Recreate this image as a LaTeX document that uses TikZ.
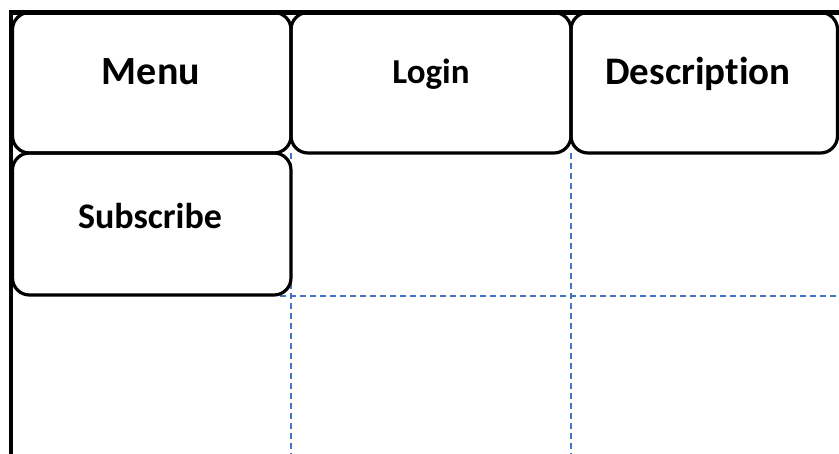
\documentclass[tikz,border=0pt]{standalone}
\usepackage{fontspec}
\setmainfont{Carlito}[Ligatures=NoCommon]
\begin{document}
\begin{tikzpicture}[x=1pt,y=-1pt,
  cell/.style={draw=black,line width=3.2pt,rounded corners=17pt},
  frame/.style={draw=black,line width=4.5pt},
  grid/.style={draw={rgb,255:red,68;green,114;blue,196},line width=1.2pt,dash pattern=on 6pt off 4pt},
  lbl/.style={font=\bfseries,anchor=base,inner sep=0pt}]
\useasboundingbox (0,0) rectangle (839,454);
% dashed grid
\coordinate (v1t) at (291,153); \coordinate (v1b) at (291,454);
\coordinate (v2t) at (571,153); \coordinate (v2b) at (571,454);
\coordinate (hl) at (280,296); \coordinate (hr) at (839,296);
\draw[grid] (v1t) -- (v1b);
\draw[grid] (v2t) -- (v2b);
\draw[grid] (hl) -- (hr);
% boxes
\draw[cell] (12.5,12.5) rectangle (291,153);
\draw[cell] (291,12.5) rectangle (571,153);
\draw[cell] (571,12.5) rectangle (837.5,153);
\draw[cell] (12.5,153) rectangle (291,295);
% frame
\coordinate (fb) at (11,454); \coordinate (fc) at (11,12.5); \coordinate (fr) at (839,12.5);
\draw[frame] (fb) -- (fc) -- (fr);
% labels
\node[lbl,font=\fontsize{40}{44}\selectfont\bfseries] (menu) at (151,85) {Menu};
\node[lbl,font=\fontsize{35}{40}\selectfont\bfseries] (login) at (431,84) {Login};
\node[lbl,font=\fontsize{39}{44}\selectfont\bfseries] (desc) at (698,85) {Description};
\node[lbl,font=\fontsize{36}{40}\selectfont\bfseries] (sub) at (150,229) {Subscribe};
\end{tikzpicture}
\end{document}
